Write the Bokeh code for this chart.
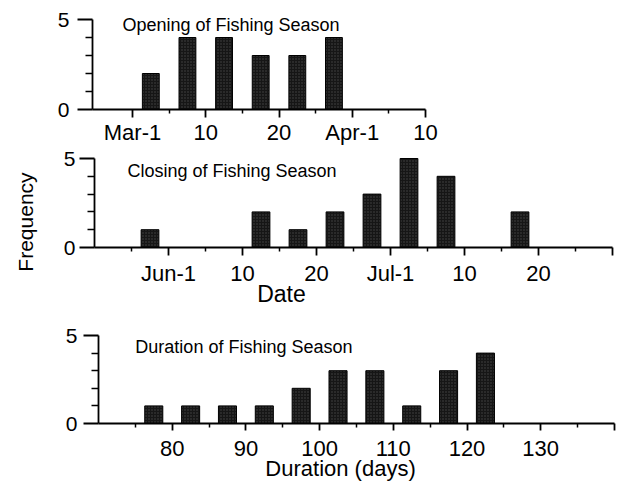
import math

from bokeh.embed import file_html
from bokeh.models import FixedTicker, Label, LinearAxis, Range1d
from bokeh.plotting import figure
from bokeh.resources import INLINE

# ---- data -------------------------------------------------------------
# Opening dates, 5-day bins (x measured in axis units, Mar-1 = 0)
opening_bins = [2.5, 7.5, 12.5, 17.5, 22.5, 27.5]
opening_freq = [2, 4, 4, 3, 3, 4]
opening_ticks = [0, 10, 20, 30, 40]
opening_tick_labels = ["Mar-1", "10", "20", "Apr-1", "10"]

# Closing dates, 5-day bins (Jun-1 = 0)
closing_bins = [-2.5, 12.5, 17.5, 22.5, 27.5, 32.5, 37.5, 47.5]
closing_freq = [1, 2, 1, 2, 3, 5, 4, 2]
closing_ticks = [0, 10, 20, 30, 40, 50, 60]
closing_tick_labels = ["Jun-1", "10", "20", "Jul-1", "10", "20", ""]

# Season length in days, 5-day bins
duration_bins = [77.5, 82.5, 87.5, 92.5, 97.5, 102.5, 107.5, 112.5, 117.5, 122.5]
duration_freq = [1, 1, 1, 1, 2, 3, 3, 1, 3, 4]
duration_ticks = [80, 90, 100, 110, 120, 130, 140]
duration_tick_labels = ["80", "90", "100", "110", "120", "130", ""]

freq_ticks = [0, 5]
freq_minor = [1, 2, 3, 4]

W, H = 627, 486
FONT = "Liberation Sans"
BAR_FILL = "#161616"

p = figure(width=W, height=H, x_range=Range1d(0, W), y_range=Range1d(0, H),
           x_axis_type=None, y_axis_type=None,
           min_border_left=0, min_border_right=0,
           min_border_top=0, min_border_bottom=0,
           output_backend="svg", toolbar_location=None)
p.outline_line_color = None
p.background_fill_color = "white"
p.border_fill_color = "white"


def x_range_for(px_ref, v_ref, px_per_unit):
    start = v_ref - px_ref / px_per_unit
    return Range1d(start, start + W / px_per_unit)


def y_range_for(py_ref, v_ref, px_per_unit):
    # py measured from the top of the canvas
    return Range1d(v_ref - (H - py_ref) / px_per_unit, v_ref + py_ref / px_per_unit)


def panel(name, xr, yr, x_bounds, ticks, tick_labels, minor, bins, freq, bar_w,
          x_standoff, y_standoff, x_major_out):
    xn, yn = name + "_x", name + "_y"
    p.extra_x_ranges[xn] = xr
    p.extra_y_ranges[yn] = yr

    p.vbar(x=bins, top=freq, bottom=0, width=bar_w,
           x_range_name=xn, y_range_name=yn,
           fill_color=BAR_FILL, line_color="black", line_width=1,
           hatch_pattern="dot", hatch_color="#909090", hatch_alpha=0.4,
           hatch_scale=3, hatch_weight=0.7)

    xa = LinearAxis(x_range_name=xn, y_range_name=yn, fixed_location=0,
                    bounds=x_bounds,
                    ticker=FixedTicker(ticks=ticks, minor_ticks=minor))
    xa.major_label_overrides = {t: l for t, l in zip(ticks, tick_labels)}
    xa.axis_line_width = 1.8
    xa.major_tick_line_width = 1.8
    xa.minor_tick_line_width = 1.5
    xa.major_tick_in = 0
    xa.major_tick_out = x_major_out
    xa.minor_tick_in = 0
    xa.minor_tick_out = 4
    xa.major_label_standoff = x_standoff
    xa.major_label_text_font = FONT
    xa.major_label_text_font_size = "22px"
    xa.major_label_text_color = "black"
    p.add_layout(xa, "below")

    ya = LinearAxis(x_range_name=xn, y_range_name=yn, fixed_location=x_bounds[0],
                    bounds=(0, 5),
                    ticker=FixedTicker(ticks=freq_ticks, minor_ticks=freq_minor))
    ya.axis_line_width = 1.8
    ya.major_tick_line_width = 1.8
    ya.minor_tick_line_width = 1.5
    ya.major_tick_in = 0
    ya.major_tick_out = 15
    ya.minor_tick_in = 0
    ya.minor_tick_out = 7
    ya.major_label_standoff = y_standoff
    ya.major_label_text_font = FONT
    ya.major_label_text_font_size = "21px"
    ya.major_label_text_color = "black"
    p.add_layout(ya, "left")
    return xn, yn


def text(names, x, y, s, size, align="left", angle=0.0, baseline="alphabetic"):
    p.add_layout(Label(x=x, y=y, text=s, x_range_name=names[0], y_range_name=names[1],
                       text_font=FONT, text_font_size=size, text_align=align,
                       text_baseline=baseline, angle=angle, text_color="black"))


# Opening of the season
op = panel("open", x_range_for(132, 0, 7.325), y_range_for(109, 0, 18.0),
           (-5.46, 40), opening_ticks, opening_tick_labels, [5, 15, 25, 35],
           opening_bins, opening_freq, 2.3, 2, 8, 8)
text(op, -1.37, 4.67, "Opening of Fishing Season", "18px")

# Closing of the season
cl = panel("close", x_range_for(94, -10, 7.4), y_range_for(247, 0, 17.8),
           (-10, 60), closing_ticks, closing_tick_labels,
           [-5, 5, 15, 25, 35, 45, 55], closing_bins, closing_freq, 2.4, 5, 4, 8)
text(cl, -5.54, 4.27, "Closing of Fishing Season", "18px")
text(cl, 15.27, -2.62, "Date", "23px", align="center")
text(cl, -19.32, 1.43, "Frequency", "21px", align="center",
     angle=math.pi / 2, baseline="middle")

# Duration of the season
du = panel("dur", x_range_for(98, 70, 7.37), y_range_for(423, 0, 17.6),
           (70, 140), duration_ticks, duration_tick_labels,
           [75, 85, 95, 105, 115, 125, 135], duration_bins, duration_freq, 2.45, 10, 6, 7)
text(du, 75.0, 4.32, "Duration of Fishing Season", "18px")
text(du, 102.84, -2.56, "Duration (days)", "22px", align="center")

open("out.html", "w").write(file_html(p, INLINE))
